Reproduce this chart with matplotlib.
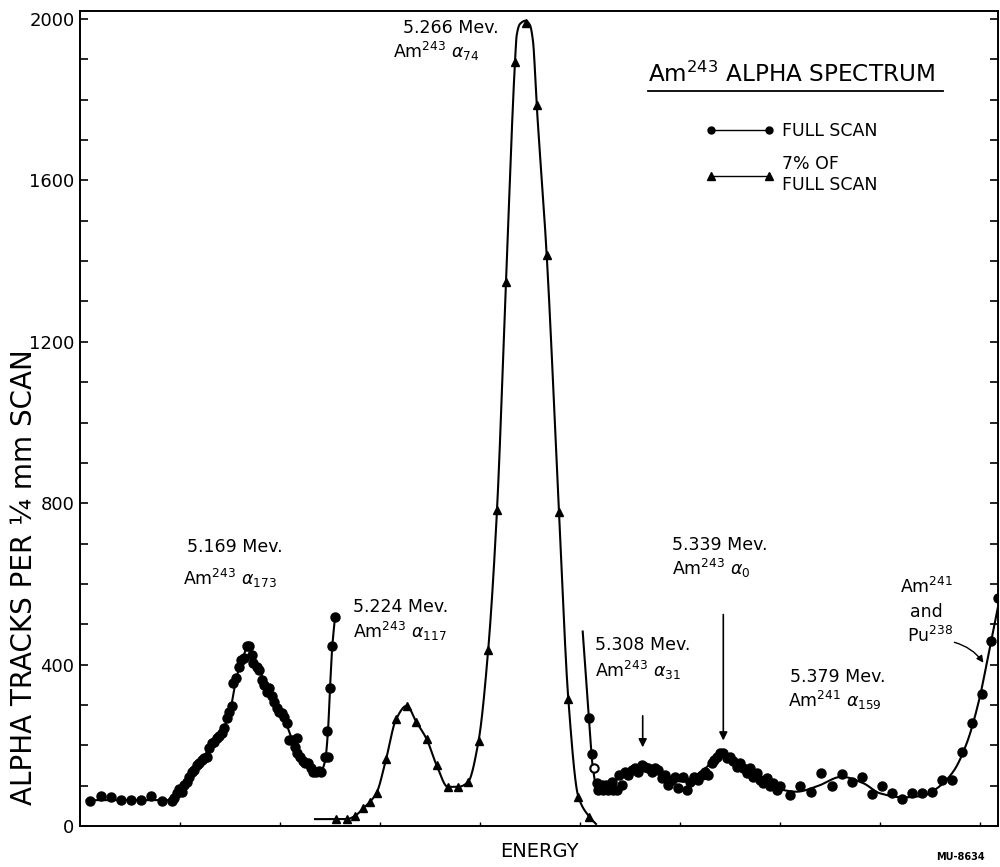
import numpy as np
import matplotlib
matplotlib.use("Agg")
import matplotlib.pyplot as plt
from matplotlib.lines import Line2D

# ---------------- data (x = scan position, arbitrary units; y = tracks) -------------
full_left_x = [1.0, 2.07, 3.07, 4.07, 5.1, 6.1, 7.1, 8.17, 9.17, 9.43, 9.67, 9.93, 10.17,
               10.4, 10.67, 10.93, 11.17, 11.4, 11.67, 11.93, 12.17, 12.4, 12.67, 12.93,
               13.17, 13.4, 13.67, 13.93, 14.17, 14.4, 14.67, 14.9, 15.17, 15.33, 15.6,
               15.87, 16.13, 16.4, 16.67, 16.93, 17.2, 17.33, 17.67, 17.93, 18.17, 18.4,
               18.67, 18.93, 19.17, 19.4, 19.67, 19.93, 20.2, 20.43, 20.67, 20.93, 21.2,
               21.47, 21.67, 21.73, 22.0, 22.27, 22.53, 22.8, 23.07, 23.33, 23.6, 23.87,
               24.13, 24.5, 24.83, 24.73, 25.0, 25.23, 25.5]
full_left_y = [63, 75, 73, 65, 65, 65, 75, 63, 63, 69, 81, 91, 85,
               102, 110, 122, 135, 139, 151, 155, 164, 168, 172, 193,
               205, 209, 217, 222, 230, 242, 267, 283, 298, 354, 366,
               395, 412, 416, 445, 445, 424, 403, 395, 387, 362, 350,
               333, 341, 321, 308, 292, 283, 279, 271, 255, 213, 212,
               197, 217, 180, 172, 160, 155, 155, 143, 135, 135, 137,
               135, 172, 172, 236, 341, 445, 517]

full_right_x = [50.9, 51.17, 51.67, 51.83, 52.17, 52.33, 52.6, 52.83, 53.17, 53.33, 53.67,
                53.9, 54.17, 54.5, 54.83, 55.17, 55.5, 55.83, 56.17, 56.5, 56.83, 57.17,
                57.5, 57.83, 58.17, 58.5, 58.83, 59.17, 59.5, 59.83, 60.33, 60.67, 61.0,
                61.4, 61.83, 62.17, 62.5, 62.83, 63.17, 63.4, 63.67, 64.0, 64.33, 64.67,
                65.0, 65.33, 65.67, 66.0, 66.33, 66.67, 67.0, 67.33, 67.67, 68.0, 68.33,
                68.67, 69.0, 69.33, 69.67, 70.0, 71.0, 72.0, 73.07, 74.07, 75.17, 76.17,
                77.17, 78.17, 79.17, 80.17, 81.17, 82.17, 83.17, 84.17, 85.17, 86.23,
                87.23, 88.23, 89.17, 90.17, 91.07, 91.83]
full_right_y = [267, 178, 106, 88, 102, 88, 102, 88, 110, 88, 88,
                127, 102, 135, 127, 139, 143, 135, 151, 147, 143, 135,
                143, 139, 118, 127, 102, 114, 122, 93, 122, 89, 110,
                122, 114, 127, 135, 127, 155, 164, 172, 180, 180, 168,
                172, 160, 147, 155, 143, 131, 143, 122, 131, 114, 106,
                118, 98, 106, 89, 98, 77, 98, 85, 132, 99, 129,
                110, 121, 79, 98, 83, 67, 81, 81, 84, 114,
                114, 183, 255, 327, 459, 564]
full_open_x = [51.4]
full_open_y = [143]

# hand-drawn smooth curves
full_left_fit_x = [0.67, 9.0, 10.0, 11.0, 12.0, 13.0, 14.0, 15.0, 15.67, 16.33, 16.8,
                   17.33, 18.0, 18.67, 19.33, 20.0, 20.67, 21.33, 22.0, 22.67, 23.33,
                   24.0, 24.5, 24.8, 25.0, 25.23, 25.5]
full_left_fit_y = [64, 64, 88, 125, 158, 195, 225, 285, 370, 420, 446,
                   412, 385, 335, 305, 280, 250, 205, 172, 153, 137,
                   133, 160, 236, 341, 445, 517]
full_right_fit_x = [50.27, 50.9, 51.27, 51.67, 52.67, 54.0, 55.67, 57.0, 58.67, 60.33,
                    62.33, 64.17, 65.67, 67.67, 69.67, 71.67, 73.67, 76.17, 78.33, 80.0,
                    82.33, 84.33, 85.67, 87.33, 88.67, 89.83, 91.07, 92.0]
full_right_fit_y = [482, 267, 147, 98, 93, 122, 143, 139, 118, 110,
                    139, 174, 155, 118, 93, 85, 98, 122, 106, 81,
                    71, 75, 93, 135, 205, 304, 453, 568]

# 7% of full scan (triangles)
pct7_x = [25.6, 26.67, 27.5, 28.33, 29.0, 29.67, 30.6, 31.6, 32.67, 33.63, 34.67, 35.67,
          36.78, 37.83, 38.78, 39.85, 40.82, 41.7, 42.6, 43.5, 44.57, 45.67, 46.67, 47.9,
          48.83, 49.83, 50.93]
pct7_y = [17, 17, 25, 44, 60, 83, 165, 264, 298, 258, 215, 150,
          97, 97, 108, 210, 437, 783, 1349, 1894, 1991, 1787, 1415, 779,
          315, 73, 23]
pct7_fit_x = [23.5, 25.6, 26.67, 27.5, 28.33, 29.0, 29.67, 30.6, 31.6, 32.67, 33.63,
              34.67, 35.67, 36.78, 37.83, 38.78, 39.85, 40.82, 41.7, 42.6, 43.5, 43.67,
              44.0, 44.57, 45.0, 45.3, 45.67, 46.67, 47.9, 48.83, 49.83, 50.93, 51.6]
pct7_fit_y = [17, 17, 17, 25, 44, 60, 83, 165, 264, 298, 258,
              215, 150, 97, 97, 108, 210, 437, 783, 1349, 1894, 1960,
              1988, 1996, 1985, 1945, 1787, 1415, 779, 315, 73, 23, 5]

y_major = [0, 400, 800, 1200, 1600, 2000]


def pchip(x, y, n=1500):
    x = np.asarray(x, float)
    y = np.asarray(y, float)
    h = np.diff(x)
    d = np.diff(y) / h
    m = np.zeros_like(y)
    m[0], m[-1] = d[0], d[-1]
    for k in range(1, len(x) - 1):
        if d[k - 1] * d[k] <= 0:
            m[k] = 0.0
        else:
            w1 = 2 * h[k] + h[k - 1]
            w2 = h[k] + 2 * h[k - 1]
            m[k] = (w1 + w2) / (w1 / d[k - 1] + w2 / d[k])
    xs = np.linspace(x[0], x[-1], n)
    idx = np.clip(np.searchsorted(x, xs) - 1, 0, len(x) - 2)
    t = (xs - x[idx]) / h[idx]
    h00 = 2 * t**3 - 3 * t**2 + 1
    h10 = t**3 - 2 * t**2 + t
    h01 = -2 * t**3 + 3 * t**2
    h11 = t**3 - t**2
    ys = h00 * y[idx] + h10 * h[idx] * m[idx] + h01 * y[idx + 1] + h11 * h[idx] * m[idx + 1]
    return xs, ys


plt.rcParams['font.family'] = ['DejaVu Sans']
plt.rcParams['mathtext.fontset'] = 'dejavusans'

fig = plt.figure(figsize=(10, 8.67), dpi=100)
ax = fig.add_axes([0.08, 0.0473, 0.918, 0.94])

lw = 1.5
for fx, fy in [(full_left_fit_x, full_left_fit_y), (full_right_fit_x, full_right_fit_y),
               (pct7_fit_x, pct7_fit_y)]:
    sx, sy = pchip(fx, fy)
    ax.plot(sx, sy, color='black', lw=lw, zorder=2)

ax.plot(full_left_x, full_left_y, 'o', color='black', ms=6.5, zorder=3)
ax.plot(full_right_x, full_right_y, 'o', color='black', ms=6.5, zorder=3)
ax.plot(full_open_x, full_open_y, 'o', mfc='white', mec='black', mew=1.5, ms=6, zorder=3)
ax.plot(pct7_x, pct7_y, '^', color='black', ms=6, zorder=3)

ax.set_xlim(0, 91.8)
ax.set_ylim(0, 2020)
ax.set_yticks(y_major)
ax.set_yticks(np.arange(0, 2001, 100), minor=True)
ax.set_xticks(np.arange(10, 91, 10))
ax.set_xticklabels([])
ax.tick_params(axis='y', which='both', direction='in', length=6, width=1.2,
               right=True, labelsize=13, pad=4)
ax.tick_params(axis='x', which='both', direction='in', length=3, width=1)
for s in ax.spines.values():
    s.set_linewidth(1.4)

ax.set_ylabel('ALPHA TRACKS PER ¼ mm SCAN', fontsize=20)
ax.yaxis.set_label_coords(-0.046, 0.305)
ax.set_xlabel('ENERGY', fontsize=14, labelpad=8)

fs = 12.5
ann = [
    (10.7, 679, '5.169 Mev.'), (10.3, 597, 'Am$^{243}$ $\\alpha_{173}$'),
    (27.33, 530, '5.224 Mev.'), (27.27, 466, 'Am$^{243}$ $\\alpha_{117}$'),
    (32.33, 1965, '5.266 Mev.'), (31.27, 1903, 'Am$^{243}$ $\\alpha_{74}$'),
    (51.5, 436, '5.308 Mev.'), (51.5, 369, 'Am$^{243}$ $\\alpha_{31}$'),
    (59.17, 684, '5.339 Mev.'), (59.17, 622, 'Am$^{243}$ $\\alpha_{0}$'),
    (71.0, 357, '5.379 Mev.'), (70.83, 295, 'Am$^{241}$ $\\alpha_{159}$'),
    (82.0, 577, 'Am$^{241}$'), (83.0, 519, 'and'), (82.67, 456, 'Pu$^{238}$'),
]
for x, y, s in ann:
    ax.text(x, y, s, fontsize=fs, ha='left', va='baseline')

arrow_kw = dict(arrowstyle='-|>', color='black', lw=1.2, mutation_scale=12)
ax.annotate('', xy=(56.27, 188), xytext=(56.27, 280), arrowprops=arrow_kw)
ax.annotate('', xy=(64.33, 205), xytext=(64.33, 531), arrowprops=arrow_kw)
ax.annotate('', xy=(90.5, 399), xytext=(87.17, 457),
            arrowprops=dict(arrowstyle='-|>', color='black', lw=1.0, mutation_scale=10,
                            connectionstyle='arc3,rad=-0.2'))

# title with underline
ax.text(56.8, 1844, 'Am$^{243}$ ALPHA SPECTRUM', fontsize=16.7, ha='left', va='baseline')
ax.plot([0.619, 0.940], [0.902, 0.902], transform=ax.transAxes, color='black', lw=1.3)

handles = [Line2D([0], [0], color='black', lw=1.0, marker='o', ms=5),
           Line2D([0], [0], color='black', lw=1.0, marker='^', ms=5.5)]
ax.legend(handles, ['FULL SCAN', '7% OF\nFULL SCAN'], loc='upper left',
          bbox_to_anchor=(0.682, 0.864), frameon=False, numpoints=2, fontsize=12.5,
          handlelength=3.9, handletextpad=0.45, labelspacing=0.9, borderpad=0,
          borderaxespad=0)

fig.text(0.96, 0.0115, 'MU-8634', fontsize=7, fontweight='bold', ha='center', va='center')

fig.savefig('out.png', dpi=100)
